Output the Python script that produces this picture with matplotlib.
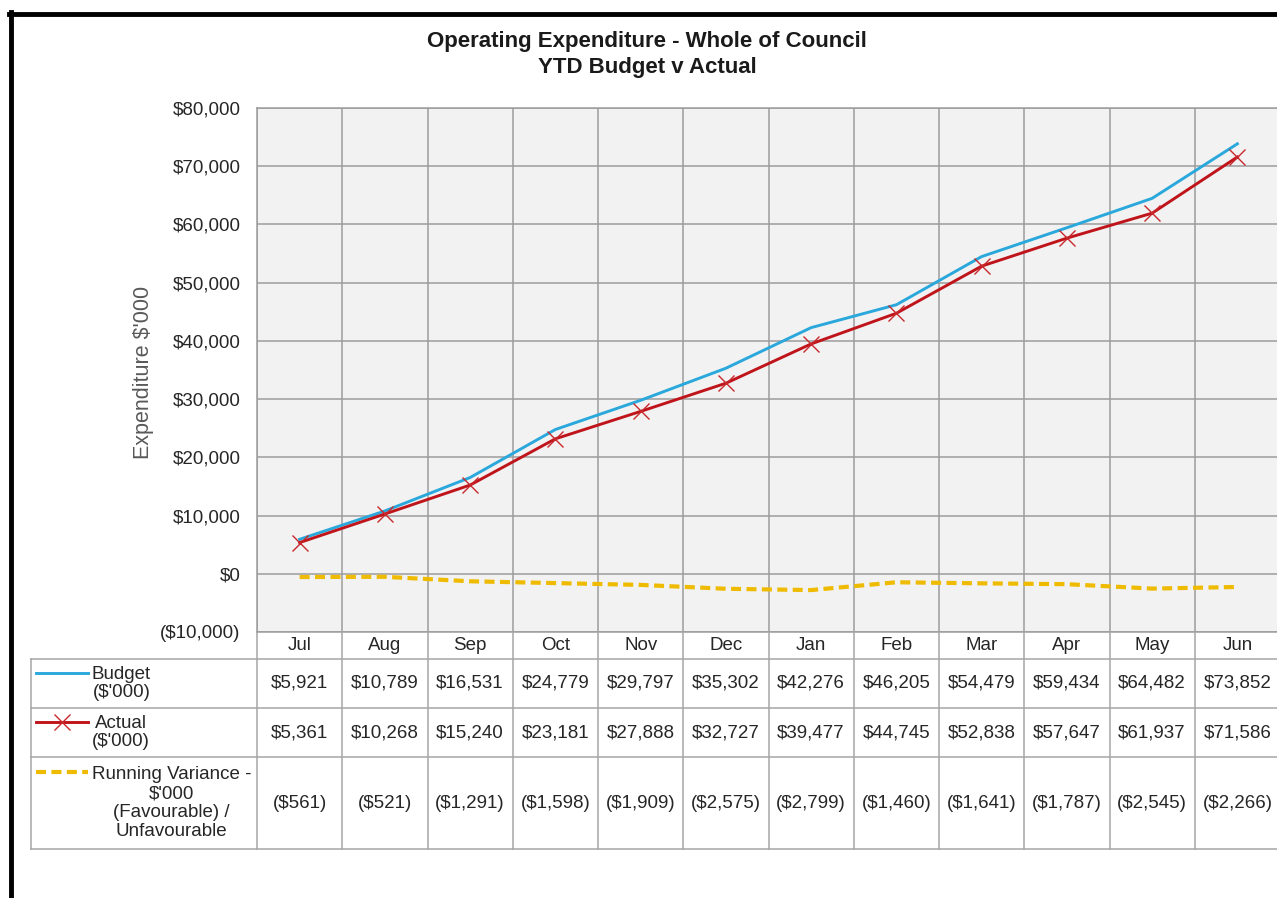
import matplotlib.pyplot as plt
from matplotlib.lines import Line2D
from matplotlib.ticker import FuncFormatter

plt.rcParams['font.family'] = ['Liberation Sans', 'DejaVu Sans']

months = ['Jul', 'Aug', 'Sep', 'Oct', 'Nov', 'Dec', 'Jan', 'Feb', 'Mar', 'Apr', 'May', 'Jun']
budget = [5921, 10789, 16531, 24779, 29797, 35302, 42276, 46205, 54479, 59434, 64482, 73852]
actual = [5361, 10268, 15240, 23181, 27888, 32727, 39477, 44745, 52838, 57647, 61937, 71586]
variance = [-561, -521, -1291, -1598, -1909, -2575, -2799, -1460, -1641, -1787, -2545, -2266]
series_names = ["Budget\n($'000)", "Actual\n($'000)",
                "Running Variance -\n$'000\n(Favourable) /\nUnfavourable"]

W, H = 1277, 898
c_budget = '#2aa8dc'
c_actual = '#c0141b'
c_var = '#efbb00'
c_grid = '#9c9c9c'
c_text = '#262626'


def fx(px):
    return px / W


def fy(py):
    return 1 - py / H


def money(v, pos=None):
    if v < 0:
        return f'(${abs(v):,.0f})'
    return f'${v:,.0f}'


fig = plt.figure(figsize=(W / 100, H / 100), dpi=100)

# plot area
left, right, top, bottom = 257, 1280, 108, 632
ax = fig.add_axes([fx(left), fy(bottom), fx(right - left), (bottom - top) / H])
ax.set_facecolor('#f2f2f2')
x = [i + 0.5 for i in range(len(months))]

ax.plot(x, budget, color=c_budget, lw=2.1, zorder=3)
ax.plot(x, actual, color=c_actual, lw=2.1, marker='x', ms=12, mew=1.0,
        mec='#c8282c', zorder=4)
ax.plot(x, variance, color=c_var, lw=3.0, dashes=(2.4, 1.3), zorder=3)

ax.set_xlim(0, 12)
ax.set_ylim(-10000, 80000)
ax.set_yticks(range(-10000, 80001, 10000))
ax.yaxis.set_major_formatter(FuncFormatter(money))
ax.set_xticks(range(13))
ax.set_xticklabels([])
ax.tick_params(length=0, labelsize=13.5, labelcolor=c_text)
ax.tick_params(axis='y', pad=12)
ax.grid(True, color=c_grid, lw=1.1)
ax.set_axisbelow(True)
for s in ax.spines.values():
    s.set_color(c_grid)
    s.set_linewidth(1.1)

fig.text(fx(143), fy(372), "Expenditure $'000", rotation=90, ha='center', va='center',
         fontsize=15.5, color='#595959')

fig.text(fx(647), fy(42), 'Operating Expenditure - Whole of Council', ha='center',
         va='center', fontsize=16, fontweight='bold', color='#1a1a1a')
fig.text(fx(647), fy(67), 'YTD Budget v Actual', ha='center', va='center',
         fontsize=16, fontweight='bold', color='#1a1a1a')

# data table
col_w = (right - left) / 12
leg_left = -(left - 31) / col_w
rows = [632, 659, 708, 757, 849]
tb = fig.add_axes([fx(31), fy(rows[-1]), fx(right - 31), (rows[-1] - rows[0]) / H])
tb.set_xlim(leg_left, 12)
tb.set_ylim(rows[-1], rows[0])
tb.axis('off')

c_tab = '#a6a6a6'
for yy in rows[1:]:
    tb.plot([leg_left, 12], [yy, yy], color=c_tab, lw=1.1, clip_on=False)
tb.plot([leg_left, leg_left], [rows[1], rows[-1]], color=c_tab, lw=1.1, clip_on=False)
for i in range(13):
    tb.plot([i, i], [rows[0], rows[-1]], color=c_tab, lw=1.1, clip_on=False)

for i, m in enumerate(months):
    tb.text(i + 0.5, (rows[0] + rows[1]) / 2, m, ha='center', va='center',
            fontsize=13.5, color=c_text)

table_vals = [budget, actual, variance]
for r, vals in enumerate(table_vals):
    yc = (rows[r + 1] + rows[r + 2]) / 2
    for i, v in enumerate(vals):
        tb.text(i + 0.5, yc, money(v), ha='center', va='center', fontsize=13.5,
                color=c_text)

# legend keys
lh = 20
x0, x1 = (36 - left) / col_w, (88 - left) / col_w
styles = [dict(color=c_budget, lw=2.1),
          dict(color=c_actual, lw=2.1),
          dict(color=c_var, lw=3.0, dashes=(2.4, 1.3))]
for r, name in enumerate(series_names):
    yc = (rows[r + 1] + rows[r + 2]) / 2
    n = name.count('\n') + 1
    yfirst = yc - (n - 1) * lh / 2 - 1
    tb.plot([x0, x1], [yfirst, yfirst], **styles[r])
    if r == 1:
        tb.plot([(x0 + x1) / 2], [yfirst], marker='x', ms=12, mew=1.0,
                color='#c8282c')
    tb.text((92 - left) / col_w, yc, name, ha='left', va='center', multialignment='center',
            fontsize=13.5, color=c_text, linespacing=1.13)

# outer border (left and top only are visible)
fig.add_artist(Line2D([fx(10.5), fx(10.5)], [0, fy(12)], color='black', lw=3.5))
fig.add_artist(Line2D([fx(9), 1], [fy(14), fy(14)], color='black', lw=3.5))

fig.savefig('out.png', dpi=100, facecolor='white')
